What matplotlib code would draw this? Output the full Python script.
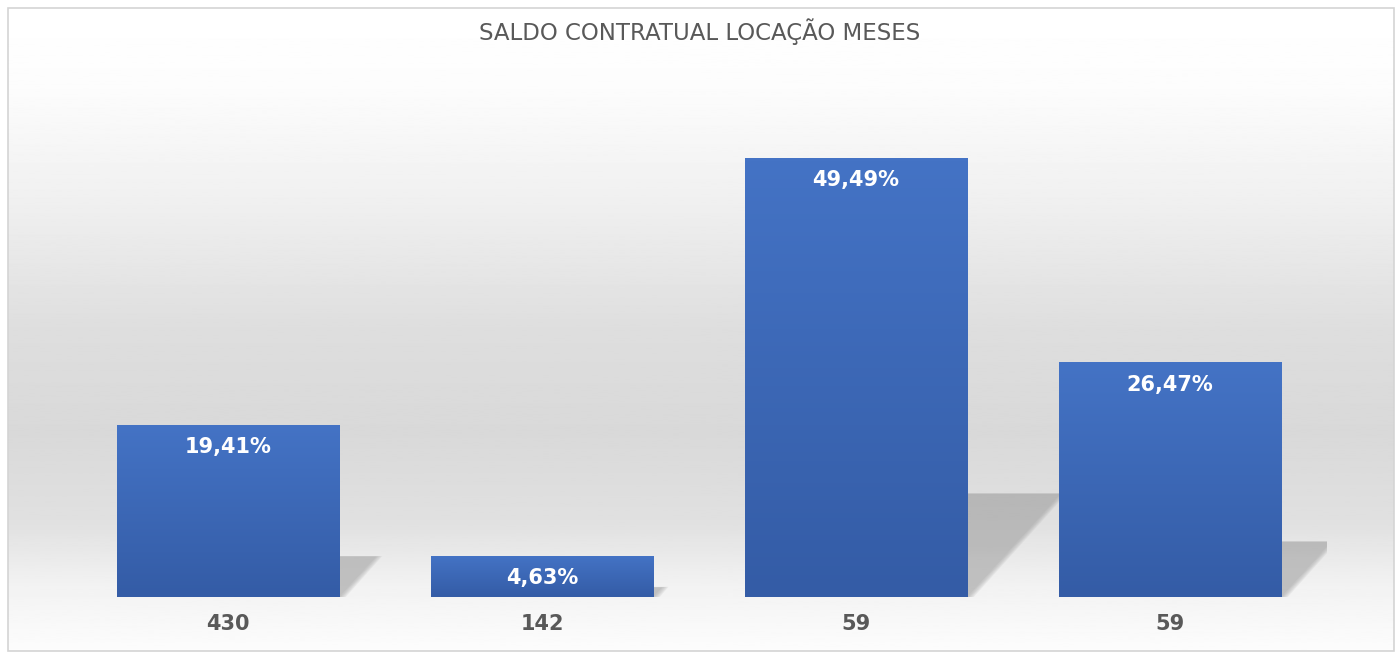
import matplotlib.pyplot as plt
import numpy as np
from matplotlib.colors import LinearSegmentedColormap
from matplotlib.patches import Polygon, Rectangle

titulo = "SALDO CONTRATUAL LOCAÇÃO MESES"
meses = ["430", "142", "59", "59"]
percentuais = [19.41, 4.63, 49.49, 26.47]

W, H = 1400, 659
fig = plt.figure(figsize=(W / 100, H / 100), dpi=100)
fig.patch.set_facecolor("white")

# fundo com degradê (branco -> cinza -> branco)
bg = fig.add_axes([0, 0, 1, 1], zorder=0)
bg.set_axis_off()
bg.set_xlim(0, 1)
bg.set_ylim(0, 1)
pos = [0.0, 0.12, 0.30, 0.50, 0.66, 0.80, 0.90, 1.0]
lum = [1.0, 0.99, 0.94, 0.87, 0.85, 0.88, 0.95, 0.99]
yy = np.linspace(0, 1, 400)
grad = np.interp(yy, pos, lum).reshape(-1, 1)
x0f, x1f = 8 / W, 1394 / W
y0f, y1f = 1 - 651 / H, 1 - 8 / H
bg.imshow(grad, cmap="gray", vmin=0, vmax=1, aspect="auto",
          extent=[x0f, x1f, y0f, y1f], origin="upper")
bg.add_patch(Rectangle((x0f, y0f), x1f - x0f, y1f - y0f, fill=False,
                       edgecolor="#d4d4d4", linewidth=1.2))

fig.text(0.5, 1 - 32 / H, titulo, ha="center", va="center",
         fontsize=16.5, color="#595959", family="DejaVu Sans")

# eixo principal
ax = fig.add_axes([71 / W, 62 / H, (1327 - 71) / W, (597 - 109) / H], zorder=1)
ax.patch.set_alpha(0)
x = np.arange(len(meses))
bars = ax.bar(x, percentuais, width=0.71, color="#4472c4", edgecolor="none", zorder=3)

azul = LinearSegmentedColormap.from_list("azul", ["#345ca6", "#4473c5"])
for b in bars:
    bx, bw, bh = b.get_x(), b.get_width(), b.get_height()
    # sombra em perspectiva
    sh = 0.235 * bh
    dx = 0.006 * bh
    for k in range(6):
        e = k * 0.004
        poly = Polygon([(bx + 0.05, 0), (bx + bw + e, 0),
                        (bx + bw + dx + e, sh + e * 3), (bx + dx, sh + e * 3)],
                       closed=True, facecolor="#9a9a9a", edgecolor="none",
                       alpha=0.12, zorder=2)
        ax.add_patch(poly)
    g = np.linspace(0, 1, 100).reshape(-1, 1)
    im = ax.imshow(g, cmap=azul, aspect="auto", extent=[bx, bx + bw, 0, bh],
                   origin="lower", zorder=4)
    im.set_clip_path(b)

for xi, v in zip(x, percentuais):
    ax.annotate(f"{v:.2f}%".replace(".", ","), (xi, v), xytext=(0, -9),
                textcoords="offset points", ha="center", va="top",
                color="white", fontsize=15, fontweight="bold", zorder=5)

ax.set_xlim(-0.5, 3.5)
ax.set_ylim(0, 55)
ax.set_xticks(x, meses)
ax.tick_params(axis="x", length=0, pad=12, labelsize=15, labelcolor="#595959")
for lbl in ax.get_xticklabels():
    lbl.set_fontweight("bold")
ax.set_yticks([])
for s in ax.spines.values():
    s.set_visible(False)

fig.savefig("out.png", dpi=100)
